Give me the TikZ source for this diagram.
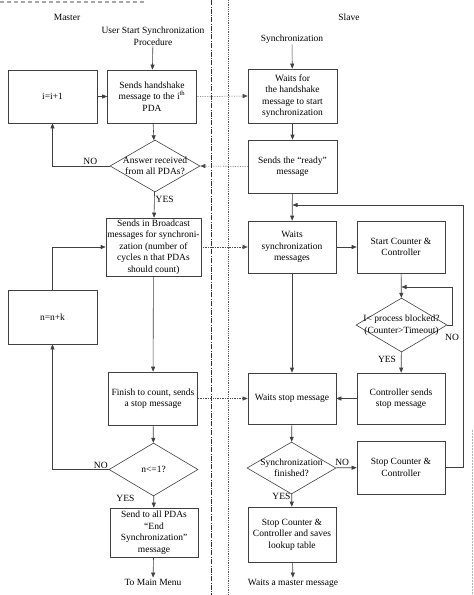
\documentclass[tikz,border=0pt]{standalone}
\usepackage{fontspec}
\setmainfont{Liberation Serif}
\usetikzlibrary{arrows.meta,shapes.geometric}

\begin{document}
\begin{tikzpicture}[x=1pt, y=-1pt,
  every node/.style={font=\fontsize{9.5}{11.5}\selectfont, inner sep=1pt},
  box/.style={draw=black!75, line width=.6pt, align=center, minimum width=89pt, minimum height=53pt},
  cond/.style={draw=black!75, line width=.6pt, diamond, minimum width=90pt, minimum height=52pt, inner sep=0pt},
  flow/.style={draw=black!75, line width=.6pt, -{Triangle[length=5pt,width=4pt]}},
  msg/.style={draw=black!70, line width=.5pt, dash pattern=on .7pt off 1pt, -{Triangle[length=5pt,width=4pt]}}]
  \useasboundingbox (0,0) rectangle (474,595);

  \draw[black!80, line width=.9pt, dash pattern=on 5pt off 1.5pt on .6pt off 1.5pt] (211,0) -- (211,595);
  \draw[black!65, line width=.5pt, dash pattern=on .7pt off 1.1pt] (228,0) -- (228,595);
  \draw[black!35, line width=1.2pt, dash pattern=on 4pt off 3pt] (0,2) -- (145,2);
  \draw[black!30, line width=.8pt, dash pattern=on 1.5pt off 1.5pt] (472,430) -- (472,595);

  \node (master) at (67,17) {Master};
  \node (slave) at (349,17) {Slave};

  \node[align=center] (usr) at (153,36) {User Start Synchronization\\Procedure};
  \node[box] (hand) at (152,96.5) {Sends handshake\\message to the i\textsuperscript{th}\\PDA};
  \node[box] (inc) at (52.5,96.5) {i=i+1};
  \node[cond, label={[align=center]center:Answer received\\from all PDAs?}] (ans) at (155,166) {};
  \node[box, minimum width=95pt, minimum height=58pt] (bc) at (153.5,247) {Sends in Broadcast\\messages for synchroni-\\zation (number of\\cycles n that PDAs\\should count)};
  \node[box, minimum height=54pt] (nk) at (52.5,317) {n=n+k};
  \node[box] (fin) at (153,398.5) {Finish to count, sends\\a stop message};
  \node[cond, minimum width=89pt, minimum height=53pt, label={center:{n<=1?}}] (nle) at (153.5,469.5) {};
  \node[box, minimum width=88pt, minimum height=49pt] (endmsg) at (154,532.5) {Send to all PDAs\\``End\\Synchronization''\\message};
  \node (menu) at (153,582) {To Main Menu};

  \node (sync) at (292,39) {Synchronization};
  \node[box, minimum height=54pt] (waithand) at (292.5,96) {Waits for\\the handshake\\message to start\\synchronization};
  \node[box] (ready) at (292.5,166.5) {Sends the ``ready''\\message};
  \node[box, minimum width=88pt, minimum height=52pt] (waitsync) at (292,247) {Waits\\synchronization\\messages};
  \node[box, minimum width=88pt, minimum height=52pt] (start) at (401,247) {Start Counter \&\\Controller};
  \node[cond, minimum width=91pt, minimum height=54pt, label={[align=center]center:I< process blocked?\\(Counter>Timeout)}] (blocked) at (401.5,325) {};
  \node[box, minimum width=88pt, minimum height=51pt] (ctrl) at (401,398.5) {Controller sends\\stop message};
  \node[box, minimum width=88pt, minimum height=51pt] (waitstop) at (292,398.5) {Waits stop message};
  \node[cond, minimum width=89pt, label={[align=center]center:Synchronization\\finished?}] (done) at (291.5,468) {};
  \node[box, minimum width=88pt] (stopc) at (401,467.5) {Stop Counter \&\\Controller};
  \node[box, minimum width=88pt, minimum height=55pt] (save) at (292,534.5) {Stop Counter \&\\Controller and saves\\lookup table};
  \node (wmaster) at (293,583) {Waits a master message};

  \coordinate (merge) at (292.5,205);
  \coordinate (retry) at (401.5,287);

  \draw[flow] (usr) -- (hand);
  \draw[flow] (inc) -- (hand);
  \draw[flow] (hand) -- (ans);
  \draw[flow] (ans.west) -| (inc.south) node[pos=.17, above] {NO};
  \draw[flow] (ans) -- node[pos=.3, right] {YES} (bc);
  \draw[flow] (bc) -- (fin);
  \draw[flow] (nk.north) |- (bc.west);
  \draw[flow] (fin) -- (nle);
  \draw[flow] (nle.west) -| (nk.south) node[pos=.07, above] {NO};
  \draw[flow] (nle) -- node[pos=.2, left=18pt] {YES} (endmsg);
  \draw[flow] (endmsg) -- (menu);

  \draw[flow] (sync) -- (waithand);
  \draw[flow] (waithand) -- (ready);
  \draw[flow] (ready) -- (waitsync);
  \draw[flow] (waitsync) -- (start);
  \draw[flow] (waitsync) -- (waitstop);
  \draw[flow] (start) -- (blocked);
  \draw[flow] (blocked.east) -- ++(5,0) |- (retry);
  \node (blkno) at (452,337) {NO};
  \draw[flow] (blocked) -- node[pos=.35, left=4pt] {YES} (ctrl);
  \draw[flow] (ctrl) -- (waitstop);
  \draw[flow] (waitstop) -- (done);
  \draw[flow] (done) -- node[pos=.3, above=1pt] {NO} (stopc);
  \draw[flow] (stopc.east) -- ++(18,0) |- (merge);
  \draw[flow] (done) -- node[pos=.2, left] {YES} (save);
  \draw[flow] (save) -- (wmaster);

  \foreach \a/\b in {hand/waithand, bc/waitsync, fin/waitstop} {
    \draw[msg] (\a.east) -- (\b.west);
  }
  \draw[msg] (ready.west) -- (ans.east);
\end{tikzpicture}
\end{document}
